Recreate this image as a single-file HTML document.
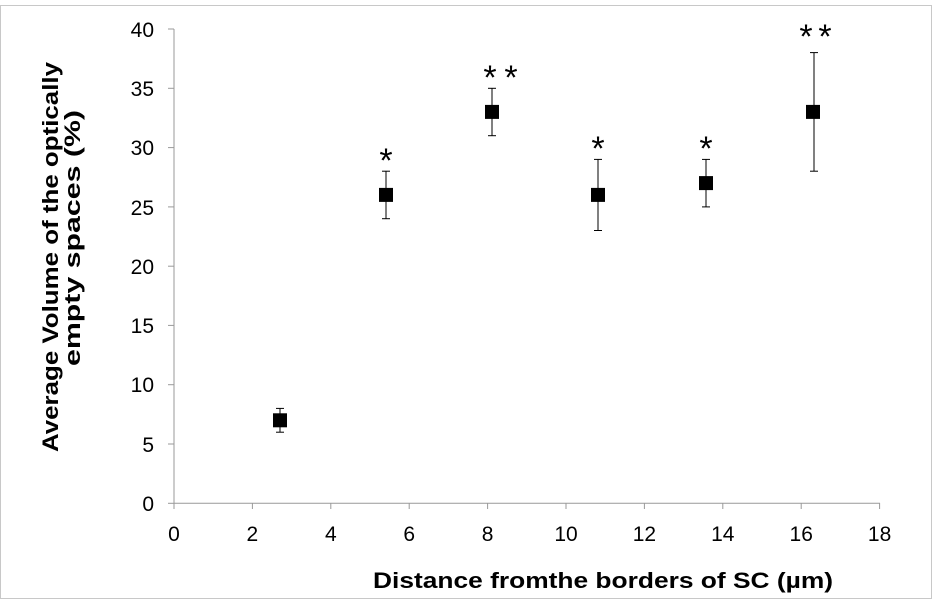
<!DOCTYPE html><html><head><style>body{margin:0;background:#fff}</style></head><body>
<svg width="933" height="601" xmlns="http://www.w3.org/2000/svg" font-family="Liberation Sans, Arial, sans-serif">
<rect x="0.5" y="5.5" width="931" height="593" fill="#fff" stroke="#c8c8c8"/>
<g stroke="#999" stroke-width="1">
<line x1="174" y1="29" x2="174" y2="503.3"/>
<line x1="174" y1="503.3" x2="880" y2="503.3"/>
<line x1="168" y1="29" x2="174" y2="29"/><line x1="168" y1="88.3" x2="174" y2="88.3"/><line x1="168" y1="147.6" x2="174" y2="147.6"/><line x1="168" y1="206.9" x2="174" y2="206.9"/><line x1="168" y1="266.2" x2="174" y2="266.2"/><line x1="168" y1="325.4" x2="174" y2="325.4"/><line x1="168" y1="384.7" x2="174" y2="384.7"/><line x1="168" y1="444" x2="174" y2="444"/><line x1="168" y1="503.3" x2="174" y2="503.3"/>
<line x1="174" y1="503" x2="174" y2="509"/><line x1="252.4" y1="503" x2="252.4" y2="509"/><line x1="330.8" y1="503" x2="330.8" y2="509"/><line x1="409.2" y1="503" x2="409.2" y2="509"/><line x1="487.6" y1="503" x2="487.6" y2="509"/><line x1="566" y1="503" x2="566" y2="509"/><line x1="644.4" y1="503" x2="644.4" y2="509"/><line x1="722.8" y1="503" x2="722.8" y2="509"/><line x1="801.2" y1="503" x2="801.2" y2="509"/><line x1="879.6" y1="503" x2="879.6" y2="509"/>
</g>
<g font-size="21" text-anchor="end" fill="#000">
<text x="154" y="37">40</text><text x="154" y="96">35</text><text x="154" y="155">30</text><text x="154" y="215">25</text><text x="154" y="274">20</text><text x="154" y="333">15</text><text x="154" y="392">10</text><text x="154" y="452">5</text><text x="154" y="511">0</text>
</g>
<g font-size="21" text-anchor="middle" fill="#000">
<text x="174" y="541">0</text><text x="252.4" y="541">2</text><text x="330.8" y="541">4</text><text x="409.2" y="541">6</text><text x="487.6" y="541">8</text><text x="566" y="541">10</text><text x="644.4" y="541">12</text><text x="722.8" y="541">14</text><text x="801.2" y="541">16</text><text x="879.6" y="541">18</text>
</g>
<g stroke="#000" stroke-width="1">
<line x1="280" y1="408.4" x2="280" y2="432.2"/><line x1="276" y1="408.4" x2="284" y2="408.4"/><line x1="276" y1="432.2" x2="284" y2="432.2"/>
<line x1="386" y1="171.2" x2="386" y2="218.7"/><line x1="382" y1="171.2" x2="390" y2="171.2"/><line x1="382" y1="218.7" x2="390" y2="218.7"/>
<line x1="492" y1="88.3" x2="492" y2="135.7"/><line x1="488" y1="88.3" x2="496" y2="88.3"/><line x1="488" y1="135.7" x2="496" y2="135.7"/>
<line x1="598" y1="159.4" x2="598" y2="230.5"/><line x1="594" y1="159.4" x2="602" y2="159.4"/><line x1="594" y1="230.5" x2="602" y2="230.5"/>
<line x1="706" y1="159.4" x2="706" y2="206.9"/><line x1="702" y1="159.4" x2="710" y2="159.4"/><line x1="702" y1="206.9" x2="710" y2="206.9"/>
<line x1="814" y1="52.6" x2="814" y2="171.2"/><line x1="810" y1="52.6" x2="818" y2="52.6"/><line x1="810" y1="171.2" x2="818" y2="171.2"/>
</g>
<g fill="#000">
<rect x="273" y="413.3" width="14" height="14"/>
<rect x="379" y="187.9" width="14" height="14"/>
<rect x="485" y="104.9" width="14" height="14"/>
<rect x="591" y="187.9" width="14" height="14"/>
<rect x="699" y="176.1" width="14" height="14"/>
<rect x="806" y="104.9" width="14" height="14"/>
</g>
<g font-size="34" text-anchor="middle" fill="#000">
<text x="386" y="172">*</text><text x="490" y="89">*</text><text x="511" y="89">*</text><text x="598" y="160">*</text><text x="706" y="160">*</text><text x="806" y="48">*</text><text x="825" y="48">*</text>
</g>
<text x="373" y="588" font-size="22" font-weight="bold" textLength="460" lengthAdjust="spacingAndGlyphs">Distance fromthe borders of SC (µm)</text>
<g font-size="22" font-weight="bold" text-anchor="middle">
<text transform="translate(58,257) rotate(-90)" textLength="390" lengthAdjust="spacingAndGlyphs">Average  Volume of the optically</text>
<text transform="translate(80,238) rotate(-90)" textLength="256" lengthAdjust="spacingAndGlyphs">empty spaces (%)</text>
</g>
</svg></body></html>
